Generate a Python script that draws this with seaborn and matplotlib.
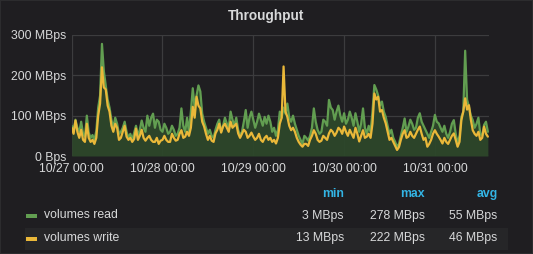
import numpy as np
import pandas as pd
import matplotlib
matplotlib.use("Agg")
import matplotlib.pyplot as plt
import matplotlib.dates as mdates
import seaborn as sns

# ---- data (every 30 min, starting 10/27 00:00) ----
start = "2016-10-27 00:00"
read_mbps = [75, 62, 90, 70, 60, 85, 55, 48, 100, 58, 45, 52, 40, 62, 120, 150, 278, 210, 175, 140,
             120, 90, 70, 95, 80, 55, 60, 70, 85, 60, 45, 55, 40, 58, 75, 50, 65, 88, 70, 60,
             100, 75, 95, 105, 70, 90, 85, 65, 60, 80, 70, 55, 60, 75, 65, 50, 55, 70, 118, 75,
             60, 95, 60, 110, 168, 120, 150, 175, 160, 105, 85, 70, 55, 65, 50, 45, 65, 80, 90, 60,
             75, 95, 80, 70, 110, 90, 75, 95, 65, 50, 60, 85, 114, 70, 95, 110, 90, 70, 85, 105,
             90, 75, 97, 80, 100, 85, 60, 70, 50, 65, 110, 95, 120, 105, 130, 95, 85, 100, 80, 65,
             50, 40, 30, 50, 45, 38, 50, 70, 118, 85, 65, 55, 60, 90, 85, 75, 139, 120, 114, 90,
             110, 125, 100, 85, 106, 80, 90, 110, 95, 75, 106, 85, 60, 80, 118, 70, 55, 75, 60, 110,
             176, 165, 150, 125, 135, 110, 97, 75, 55, 65, 45, 35, 23, 30, 50, 70, 93, 60, 73, 90,
             80, 65, 70, 95, 106, 85, 75, 65, 55, 45, 60, 75, 102, 85, 81, 70, 60, 75, 55, 45,
             60, 80, 89, 55, 31, 50, 97, 110, 261, 140, 122, 100, 89, 70, 80, 95, 55, 50, 77, 85,
             60]
write_mbps = [70, 55, 88, 60, 45, 65, 40, 35, 80, 45, 35, 40, 30, 45, 100, 130, 220, 170, 165, 125,
              110, 75, 60, 80, 70, 40, 45, 60, 75, 48, 40, 45, 35, 42, 68, 40, 50, 65, 45, 38,
              45, 50, 40, 35, 35, 45, 30, 38, 40, 50, 40, 35, 35, 55, 45, 38, 40, 55, 64, 45,
              48, 60, 50, 70, 122, 95, 147, 125, 118, 85, 73, 55, 40, 50, 38, 35, 56, 65, 80, 58,
              73, 80, 70, 60, 85, 70, 75, 80, 56, 45, 55, 65, 60, 45, 50, 58, 48, 40, 45, 55,
              40, 35, 45, 50, 40, 45, 35, 40, 31, 45, 80, 95, 222, 110, 97, 75, 64, 70, 60, 45,
              35, 28, 23, 30, 30, 25, 40, 50, 64, 55, 40, 35, 38, 50, 45, 40, 56, 65, 60, 50,
              58, 70, 65, 55, 73, 60, 50, 65, 55, 45, 70, 55, 36, 50, 64, 45, 48, 55, 45, 80,
              155, 140, 147, 110, 114, 95, 81, 60, 40, 45, 35, 25, 15, 22, 40, 55, 64, 45, 48, 60,
              50, 45, 55, 65, 73, 55, 40, 45, 23, 30, 40, 55, 64, 55, 48, 40, 31, 45, 35, 30,
              40, 50, 56, 40, 23, 35, 89, 110, 143, 115, 126, 90, 64, 55, 50, 60, 40, 45, 73, 55,
              48]
series_names = ["volumes read", "volumes write"]
y_ticks = [0, 100, 200, 300]
y_tick_labels = ["0 Bps", "100 MBps", "200 MBps", "300 MBps"]
day_ticks = ["2016-10-27", "2016-10-28", "2016-10-29", "2016-10-30", "2016-10-31"]
stat_headers = ["min", "max", "avg"]
read_stats = ["3 MBps", "278 MBps", "55 MBps"]
write_stats = ["13 MBps", "222 MBps", "46 MBps"]

BG = "#1f1e21"
FG = "#d8d9da"
GRID = "#3c3c3e"
GREEN = "#629e51"
YELLOW = "#eab839"
BLUE = "#33b5e5"
FILL = "#2d472a"

times = pd.date_range(start, periods=len(read_mbps), freq="30min")
df = pd.DataFrame({"time": np.concatenate([times, times]),
                   "value": read_mbps + write_mbps,
                   "series": [series_names[0]] * len(read_mbps) + [series_names[1]] * len(write_mbps)})

sns.set_theme(style="dark")
plt.rcParams["font.family"] = ["Liberation Sans", "DejaVu Sans"]

W, H = 533, 254
fig = plt.figure(figsize=(W / 100, H / 100), dpi=100, facecolor=BG)
ax = fig.add_axes([71.7 / W, 1 - 156 / H, (489 - 71.7) / W, (156 - 35) / H])
ax.set_facecolor(BG)

ax.fill_between(times, read_mbps, 0, color=FILL, alpha=0.95, linewidth=0, zorder=1)
sns.lineplot(data=df, x="time", y="value", hue="series", palette=[GREEN, YELLOW],
             linewidth=1.6, ax=ax, legend=False, zorder=3)

ax.set_ylim(0, 300)
ax.set_xlim(times[0], times[0] + pd.Timedelta(hours=110.3))
ax.set_yticks(y_ticks)
ax.set_yticklabels(y_tick_labels)
ax.set_xticks(pd.to_datetime(day_ticks))
ax.xaxis.set_major_formatter(mdates.DateFormatter("%m/%d %H:%M"))
ax.tick_params(axis="both", colors=FG, labelsize=8.8, length=0, pad=4)
ax.tick_params(axis="x", pad=5)
ax.grid(True, color=GRID, linewidth=0.9)
ax.set_xlabel("")
ax.set_ylabel("")
for s in ax.spines.values():
    s.set_visible(False)

# title
fig.text(266 / W, 1 - 16 / H, "Throughput", ha="center", va="center", color=FG,
         fontsize=9.8, fontweight="bold")

# legend table
hdr_y = 1 - 194 / H
row_y = [1 - 215.5 / H, 1 - 238 / H]
col_x = [344 / W, 424.5 / W, 497.5 / W]
for x, t in zip(col_x, stat_headers):
    fig.text(x, hdr_y, t, ha="right", va="center", color=BLUE, fontsize=8.8, fontweight="bold")

band = plt.Rectangle((25 / W, 1 - 249.7 / H), (508 - 25) / W, 22 / H, transform=fig.transFigure,
                     facecolor="#262628", edgecolor="none", zorder=0)
fig.patches.append(band)

for y, name, col, stats in zip(row_y, series_names, [GREEN, YELLOW], [read_stats, write_stats]):
    fig.patches.append(plt.Rectangle((25.5 / W, y - 2.5 / H), 11 / W, 4 / H, transform=fig.transFigure,
                                     facecolor=col, edgecolor="none", zorder=1))
    fig.text(44 / W, y, name, ha="left", va="center", color=FG, fontsize=8.8)
    for x, t in zip(col_x, stats):
        fig.text(x, y, t, ha="right", va="center", color=FG, fontsize=8.8)

# panel border
fig.patches.append(plt.Rectangle((0, 0), 1, 1, transform=fig.transFigure, facecolor="none",
                                 edgecolor="#2c2c2e", linewidth=1.5, zorder=5))

fig.savefig("out.png", dpi=100, facecolor=BG)
